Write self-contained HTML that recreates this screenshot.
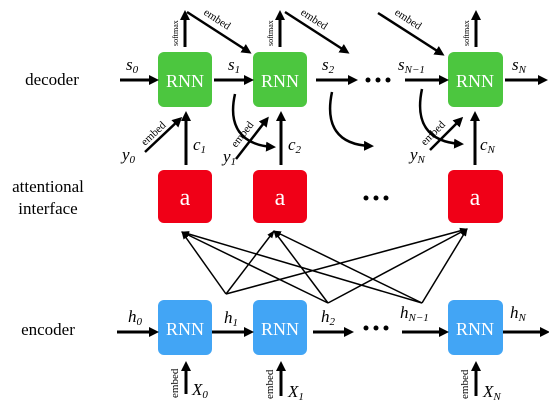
<!DOCTYPE html>
<html><head><style>
html,body{margin:0;padding:0;background:#fff;}
svg{display:block;}
.t{font-family:"Liberation Serif",serif;}
.m{font-family:"Liberation Serif",serif;font-style:italic;font-size:17px;}
.s{font-family:"Liberation Serif",serif;font-style:italic;font-size:11px;}
.e{font-family:"Liberation Serif",serif;font-size:11px;}
.b{font-family:"Liberation Serif",serif;font-size:18px;fill:#fff;}
</style></head><body>
<svg width="549" height="408" viewBox="0 0 549 408" xmlns="http://www.w3.org/2000/svg">
<defs>
<marker id="A" markerWidth="10" markerHeight="10" refX="7" refY="5" orient="auto" markerUnits="userSpaceOnUse"><path d="M0,0 L10,5 L0,10 Z" fill="#000"/></marker>
<marker id="a" markerWidth="8" markerHeight="8" refX="7" refY="4" orient="auto" markerUnits="userSpaceOnUse"><path d="M0,1 L8,4 L0,7 Z" fill="#000"/></marker>
</defs>
<g class="t" font-size="17" text-anchor="middle">
<text x="52" y="85">decoder</text>
<text x="48" y="192">attentional</text>
<text x="48" y="214">interface</text>
<text x="48" y="335">encoder</text>
</g>
<!-- decoder boxes -->
<g fill="#4cc63f">
<rect x="158" y="52" width="54" height="55" rx="6"/>
<rect x="253" y="52" width="54" height="55" rx="6"/>
<rect x="448" y="52" width="55" height="55" rx="6"/>
</g>
<g fill="#f00017">
<rect x="158" y="170" width="54" height="53" rx="6"/>
<rect x="253" y="170" width="54" height="53" rx="6"/>
<rect x="448" y="170" width="55" height="53" rx="6"/>
</g>
<g fill="#42a5f5">
<rect x="158" y="300" width="54" height="55" rx="6"/>
<rect x="253" y="300" width="54" height="55" rx="6"/>
<rect x="448" y="300" width="55" height="55" rx="6"/>
</g>
<g class="b" text-anchor="middle">
<text x="185" y="87">RNN</text><text x="280" y="87">RNN</text><text x="475" y="87">RNN</text>
<text x="185" y="335">RNN</text><text x="280" y="335">RNN</text><text x="475" y="335">RNN</text>
<text x="185" y="205" font-size="24">a</text><text x="280" y="205" font-size="24">a</text><text x="475" y="205" font-size="24">a</text>
</g>
<g stroke="#000" stroke-width="3" fill="none" marker-end="url(#A)">
<!-- decoder horizontal -->
<line x1="120" y1="80" x2="156" y2="80"/>
<line x1="214" y1="80" x2="251" y2="80"/>
<line x1="316" y1="80" x2="355" y2="80"/>
<line x1="405" y1="80" x2="446" y2="80"/>
<line x1="505" y1="80" x2="545" y2="80"/>
<!-- softmax -->
<line x1="185" y1="47" x2="185" y2="13"/>
<line x1="280" y1="47" x2="280" y2="13"/>
<line x1="476" y1="47" x2="476" y2="13"/>
<!-- embed diagonals -->
<line x1="187" y1="12" x2="249" y2="52" stroke-width="2.5"/>
<line x1="285" y1="12" x2="347" y2="52" stroke-width="2.5"/>
<line x1="378" y1="13" x2="442" y2="54" stroke-width="2.5"/>
<!-- y embeds -->
<line x1="145" y1="152" x2="180" y2="119" stroke-width="2.5"/>
<line x1="236" y1="159" x2="267" y2="119" stroke-width="2.5"/>
<line x1="430" y1="150" x2="461" y2="119" stroke-width="2.5"/>
<!-- c arrows -->
<line x1="186" y1="165" x2="186" y2="114"/>
<line x1="281" y1="165" x2="281" y2="114"/>
<line x1="475" y1="165" x2="475" y2="114"/>
<!-- curves -->
<path d="M235,94 C228,125 240,145 273,147" stroke-width="2.5"/>
<path d="M332,92 C325,125 337,145 371,146" stroke-width="2.5"/>
<path d="M422,89 C415,122 427,142 461,144" stroke-width="2.5"/>
<!-- encoder horizontal -->
<line x1="117" y1="332" x2="156" y2="332"/>
<line x1="212" y1="332" x2="251" y2="332"/>
<line x1="313" y1="332" x2="351" y2="332"/>
<line x1="402" y1="332" x2="446" y2="332"/>
<line x1="503" y1="332" x2="547" y2="332"/>
<!-- encoder embed -->
<line x1="186" y1="394" x2="186" y2="364"/>
<line x1="281" y1="396" x2="281" y2="364"/>
<line x1="476" y1="396" x2="476" y2="364"/>
</g>
<!-- attention fan -->
<g stroke="#000" stroke-width="1.5" fill="none" marker-end="url(#a)">
<line x1="226" y1="294" x2="182" y2="232"/>
<line x1="226" y1="294" x2="274" y2="231"/>
<line x1="226" y1="294" x2="467" y2="229"/>
<line x1="328" y1="303" x2="182" y2="232"/>
<line x1="328" y1="303" x2="274" y2="231"/>
<line x1="328" y1="303" x2="467" y2="229"/>
<line x1="422" y1="303" x2="182" y2="232"/>
<line x1="422" y1="303" x2="274" y2="231"/>
<line x1="422" y1="303" x2="467" y2="229"/>
</g>
<!-- dots -->
<g fill="#000">
<circle cx="368" cy="80" r="2.5"/><circle cx="378" cy="80" r="2.5"/><circle cx="388" cy="80" r="2.5"/>
<circle cx="366" cy="198" r="2.5"/><circle cx="376" cy="198" r="2.5"/><circle cx="386" cy="198" r="2.5"/>
<circle cx="366" cy="328" r="2.5"/><circle cx="376" cy="328" r="2.5"/><circle cx="386" cy="328" r="2.5"/>
</g>
<!-- math labels -->
<g class="m">
<text x="126" y="70">s<tspan class="s" dy="3">0</tspan></text>
<text x="228" y="70">s<tspan class="s" dy="3">1</tspan></text>
<text x="322" y="70">s<tspan class="s" dy="3">2</tspan></text>
<text x="398" y="70">s<tspan class="s" dy="3">N−1</tspan></text>
<text x="512" y="70">s<tspan class="s" dy="3">N</tspan></text>
<text x="193" y="150">c<tspan class="s" dy="3">1</tspan></text>
<text x="288" y="150">c<tspan class="s" dy="3">2</tspan></text>
<text x="480" y="150">c<tspan class="s" dy="3">N</tspan></text>
<text x="122" y="160">y<tspan class="s" dy="3">0</tspan></text>
<text x="223" y="162">y<tspan class="s" dy="3">1</tspan></text>
<text x="410" y="160">y<tspan class="s" dy="3">N</tspan></text>
<text x="128" y="322">h<tspan class="s" dy="3">0</tspan></text>
<text x="224" y="323">h<tspan class="s" dy="3">1</tspan></text>
<text x="321" y="322">h<tspan class="s" dy="3">2</tspan></text>
<text x="400" y="318">h<tspan class="s" dy="3">N−1</tspan></text>
<text x="510" y="318">h<tspan class="s" dy="3">N</tspan></text>
<text x="192" y="395">X<tspan class="s" dy="3">0</tspan></text>
<text x="288" y="397">X<tspan class="s" dy="3">1</tspan></text>
<text x="483" y="397">X<tspan class="s" dy="3">N</tspan></text>
</g>
<!-- small rotated labels -->
<g class="e">
<text transform="translate(178,46) rotate(-90)" font-size="8">softmax</text>
<text transform="translate(273,46) rotate(-90)" font-size="8">softmax</text>
<text transform="translate(469,46) rotate(-90)" font-size="8">softmax</text>
<text transform="translate(203,14) rotate(33)">embed</text>
<text transform="translate(300,14) rotate(33)">embed</text>
<text transform="translate(394,14) rotate(33)">embed</text>
<text transform="translate(145,146) rotate(-43)">embed</text>
<text transform="translate(236,148) rotate(-52)">embed</text>
<text transform="translate(425,146) rotate(-45)">embed</text>
<text transform="translate(178,398) rotate(-90)">embed</text>
<text transform="translate(273,399) rotate(-90)">embed</text>
<text transform="translate(468,399) rotate(-90)">embed</text>
</g>
</svg>
</body></html>
